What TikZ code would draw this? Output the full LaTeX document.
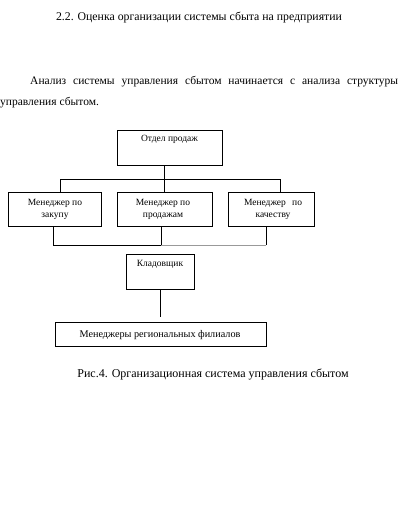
\documentclass[tikz,border=0pt]{standalone}
\usepackage{fontspec}
\setmainfont{Liberation Serif}
\begin{document}
\begin{tikzpicture}[x=1pt,y=-1pt,
  box/.style={draw, line width=0.6pt, inner sep=0pt, anchor=north west},
  btext/.style={font=\fontsize{9.5}{12}\selectfont, align=center, inner sep=0pt},
  conn/.style={line width=0.7pt},
  lightconn/.style={line width=0.7pt, draw=black!40}]
\useasboundingbox (0,0) rectangle (400,522);
\fill[white] (0,0) rectangle (400,522);
% heading
\node[font=\fontsize{11.8}{13}\selectfont, anchor=base] (title) at (199,20) {2.2. Оценка организации системы сбыта на предприятии};
\node[font=\fontsize{11.5}{14}\selectfont, anchor=base west, inner sep=0pt] (par1) at (30,84) {\makebox[368pt][s]{Анализ системы управления сбытом начинается с анализа структуры}};
\node[font=\fontsize{11.5}{14}\selectfont, anchor=base west, inner sep=0pt] (par2) at (0,105) {управления сбытом.};
% boxes
\node[box, minimum width=105pt, minimum height=35pt] (top) at (117,130) {};
\node[box, minimum width=93pt, minimum height=34pt] (b1) at (8,192) {};
\node[box, minimum width=95pt, minimum height=34pt] (b2) at (117,192) {};
\node[box, minimum width=86pt, minimum height=34pt] (b3) at (228,192) {};
\node[box, minimum width=68pt, minimum height=35pt] (klad) at (126,254) {};
\node[box, minimum width=211pt, minimum height=24pt] (reg) at (55,322) {};
% texts
\node[btext, anchor=base] (ttop) at (169.5,141) {Отдел продаж};
\node[btext, anchor=base] (tb1) at (55,217) {Менеджер по\\закупу};
\node[btext, anchor=base] (tb2) at (163,217) {Менеджер по\\продажам};
\node[btext, anchor=base] (tb3) at (273,217) {\makebox[58pt][s]{Менеджер по}\\качеству};
\node[btext, anchor=base] (tklad) at (160,266) {Кладовщик};
\node[btext, font=\fontsize{10.2}{12}\selectfont, anchor=base] (treg) at (160,337) {Менеджеры региональных филиалов};
% connectors
\coordinate (c1) at (60,179);
\coordinate (c2) at (164,179);
\coordinate (c3) at (280,179);
\draw[conn] (b1.north -| c1) -- (c1) -- (c3) -- (b3.north -| c3);
\draw[conn] (top.south -| c2) -- (b2.north -| c2);
\coordinate (d1) at (53,245);
\coordinate (d2) at (161,245);
\coordinate (d3) at (266,245);
\draw[conn] (b1.south -| d1) -- (d1) -- (d2) -- (b2.south -| d2);
\draw[lightconn] (d2) -- (d3);
\draw[conn] (d3) -- (b3.south -| d3);
\coordinate (e) at (160.5,317);
\draw[conn] (klad.south -| e) -- (e);
% caption
\node[font=\fontsize{12}{14}\selectfont, anchor=base] (cap) at (213,377) {Рис.4. Организационная система управления сбытом};
\end{tikzpicture}
\end{document}
